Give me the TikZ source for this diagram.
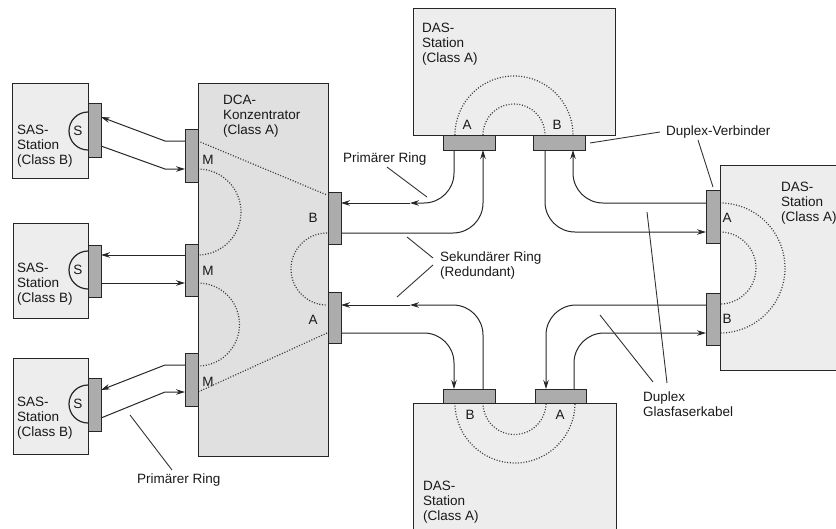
\documentclass[tikz,border=0pt]{standalone}
\usepackage{fontspec}
\setmainfont{Liberation Sans}
\usetikzlibrary{arrows.meta}
\begin{document}
\begin{tikzpicture}[x=1pt,y=-1pt,
  box/.style={draw=black!85, line width=1.3pt, fill=gray!14, anchor=north west, inner sep=0pt},
  dcabox/.style={box, fill=gray!24},
  port/.style={draw=black!85, line width=1.1pt, fill=gray!65, anchor=north west, inner sep=0pt},
  ring/.style={dash pattern=on 1pt off 1.7pt, line width=1.2pt, draw=black!78},
  wire/.style={line width=1pt, draw=black!85},
  arr/.style={wire, -{Stealth[length=9pt,width=5.5pt]}},
  curvy/.style={rounded corners=30pt},
  lbl/.style={font=\fontsize{13.5}{15}\selectfont, inner sep=0pt, align=left, text=black!90},
  tag/.style={font=\fontsize{13.5}{15}\selectfont, inner sep=0pt, text=black!90},
  callout/.style={line width=0.9pt, draw=black!80}]
\useasboundingbox (0,0) rectangle (836,528);
\clip (0,0) rectangle (836,528);

% ---------- boxes ----------
\node[box, minimum width=76pt, minimum height=95pt] (sas1) at (12,83) {};
\node[box, minimum width=75pt, minimum height=95pt] (sas2) at (13,223) {};
\node[box, minimum width=75pt, minimum height=96pt] (sas3) at (13,358) {};
\node[dcabox, minimum width=130pt, minimum height=373pt] (dca) at (198,83) {};
\node[box, minimum width=202pt, minimum height=127pt] (dasT) at (413,8) {};
\node[box, minimum width=140pt, minimum height=205pt] (dasR) at (720,165) {};
\node[box, minimum width=203pt, minimum height=140pt] (dasB) at (413,403) {};

% ---------- dotted ring paths ----------
\draw[ring] (198,141) -- (327,195);
\draw[ring] (198,169) arc[start angle=-90, end angle=90, radius=43];
\draw[ring] (198,283) arc[start angle=-90, end angle=90, radius=41.5];
\draw[ring] (327,233) arc[start angle=-90, end angle=-270, radius=36];
\draw[ring] (327,333) -- (198,392);
\draw[ring] (455,135) arc[start angle=180, end angle=360, radius=59];
\draw[ring] (483,135) arc[start angle=180, end angle=360, radius=31];
\draw[ring] (720,203) arc[start angle=-90, end angle=90, radius=65];
\draw[ring] (720,232) arc[start angle=-90, end angle=90, radius=36];
\draw[ring] (455,403) arc[start angle=180, end angle=0, radius=60];
\draw[ring] (483,403) arc[start angle=180, end angle=0, radius=31.5];

% ---------- S half circles ----------
\draw[wire, line width=1.2pt] (88,112) arc[start angle=-90, end angle=-270, radius=19];
\draw[wire, line width=1.2pt] (88,251) arc[start angle=-90, end angle=-270, radius=19];
\draw[wire, line width=1.2pt] (88,385) arc[start angle=-90, end angle=-270, radius=19];

% ---------- ports ----------
\node[port, minimum width=13pt, minimum height=54pt] (s1p) at (88,103) {};
\node[port, minimum width=13pt, minimum height=52pt] (s2p) at (88,245) {};
\node[port, minimum width=13pt, minimum height=53pt] (s3p) at (88,378) {};
\node[port, minimum width=13pt, minimum height=53pt] (m1) at (185,129) {};
\node[port, minimum width=13pt, minimum height=52pt] (m2) at (185,244) {};
\node[port, minimum width=13pt, minimum height=53pt] (m3) at (185,353) {};
\node[port, minimum width=13pt, minimum height=52pt] (pB) at (328,192) {};
\node[port, minimum width=13pt, minimum height=51pt] (pA) at (328,292) {};
\node[port, minimum width=52pt, minimum height=15pt] (tA) at (443,135) {};
\node[port, minimum width=52pt, minimum height=15pt] (tB) at (533,135) {};
\node[port, minimum width=14pt, minimum height=53pt] (rA) at (706,190) {};
\node[port, minimum width=14pt, minimum height=52pt] (rB) at (706,293) {};
\node[port, minimum width=52pt, minimum height=14pt] (bB) at (443,389) {};
\node[port, minimum width=51pt, minimum height=14pt] (bA) at (535,389) {};

% ---------- wire end points ----------
\coordinate (s1o) at (101,117); \coordinate (s1i) at (101,146);
\coordinate (m1o) at (185,141); \coordinate (m1i) at (185,169);
\coordinate (s2o) at (101,255); \coordinate (s2i) at (101,283);
\coordinate (m2o) at (185,255); \coordinate (m2i) at (185,283);
\coordinate (s3o) at (101,390); \coordinate (s3i) at (101,418);
\coordinate (m3o) at (185,365); \coordinate (m3i) at (185,392);
\coordinate (pBin) at (341,203); \coordinate (pBout) at (341,233);
\coordinate (pAin) at (341,305); \coordinate (pAout) at (341,333);
\coordinate (tAout) at (454,150); \coordinate (tAin) at (483,150);
\coordinate (tBout) at (545,150); \coordinate (tBin) at (573,150);
\coordinate (rAout) at (706,203); \coordinate (rAin) at (706,232);
\coordinate (rBout) at (706,305); \coordinate (rBin) at (706,333);
\coordinate (bBin) at (454,389); \coordinate (bBout) at (483,389);
\coordinate (bAin) at (546,389); \coordinate (bAout) at (574,389);
\coordinate (midT) at (410,203); \coordinate (midB) at (410,305);

% ---------- SAS wires ----------
\draw[arr] (m1o) -- (165,141) -- (s1o);
\draw[arr] (s1i) -- (165,169) -- (m1i);
\draw[arr] (m2o) -- (s2o);
\draw[arr] (s2i) -- (m2i);
\draw[arr] (m3o) -- (165,365) -- (s3o);
\draw[arr] (s3i) -- (165,392) -- (m3i);

% ---------- ring wires ----------
\draw[arr, curvy] (tAout) |- (midT);
\draw[arr] (midT) -- (pBin);
\draw[arr, curvy] (pBout) -| (tAin);
\draw[arr, curvy] (tBout) |- (rAin);
\draw[arr, curvy] (rAout) -| (tBin);
\draw[arr, curvy] (bAout) |- (rBin);
\draw[arr, curvy] (rBout) -| (bAin);
\draw[arr, curvy] (bBout) |- (midB);
\draw[arr] (midB) -- (pAin);
\draw[arr, curvy] (pAout) -| (bBin);

% ---------- box texts ----------
\node[lbl, anchor=north west] (t1) at (17,125) {SAS-\\Station\\(Class B)};
\node[lbl, anchor=north west] (t2) at (17,263) {SAS-\\Station\\(Class B)};
\node[lbl, anchor=north west] (t3) at (17,397) {SAS-\\Station\\(Class B)};
\node[lbl, anchor=north west] (t4) at (223,95) {DCA-\\Konzentrator\\(Class A)};
\node[lbl, anchor=north west] (t5) at (422,23) {DAS-\\Station\\(Class A)};
\node[lbl, anchor=north west] (t6) at (781,182) {DAS-\\Station\\(Class A)};
\node[lbl, anchor=north west] (t7) at (423,481) {DAS-\\Station\\(Class A)};

\node[tag] (S1) at (78,131) {S};
\node[tag] (S2) at (78,270) {S};
\node[tag] (S3) at (78,404) {S};
\node[tag] (M1) at (208,160) {M};
\node[tag] (M2) at (208,271) {M};
\node[tag] (M3) at (208,382) {M};
\node[tag] (LB) at (313,218) {B};
\node[tag] (LA) at (313,320) {A};
\node[tag] (TA) at (467,125) {A};
\node[tag] (TB) at (557,125) {B};
\node[tag] (RA) at (727,218) {A};
\node[tag] (RB) at (727,319) {B};
\node[tag] (BB) at (470,415) {B};
\node[tag] (BA) at (560,415) {A};

% ---------- callouts ----------
\node[lbl, anchor=west] (c1) at (343,159) {Primärer Ring};
\draw[callout] (387,167) -- (427,197);
\node[lbl, anchor=north west] (c2) at (440,252) {Sekundärer Ring\\(Redundant)};
\draw[callout] (433,258) -- (407,237);
\draw[callout] (433,265) -- (397,297);
\node[lbl, anchor=west] (c3) at (666,132) {Duplex-Verbinder};
\draw[callout] (660,132) -- (590,143);
\draw[callout] (698,140) -- (713,187);
\node[lbl, anchor=north west] (c4) at (643,392) {Duplex\\Glasfaserkabel};
\draw[callout] (653,382) -- (600,315);
\draw[callout] (667,383) -- (647,212);
\node[lbl, anchor=west] (c5) at (137,480) {Primärer Ring};
\draw[callout] (172,470) -- (130,415);
\end{tikzpicture}
\end{document}
